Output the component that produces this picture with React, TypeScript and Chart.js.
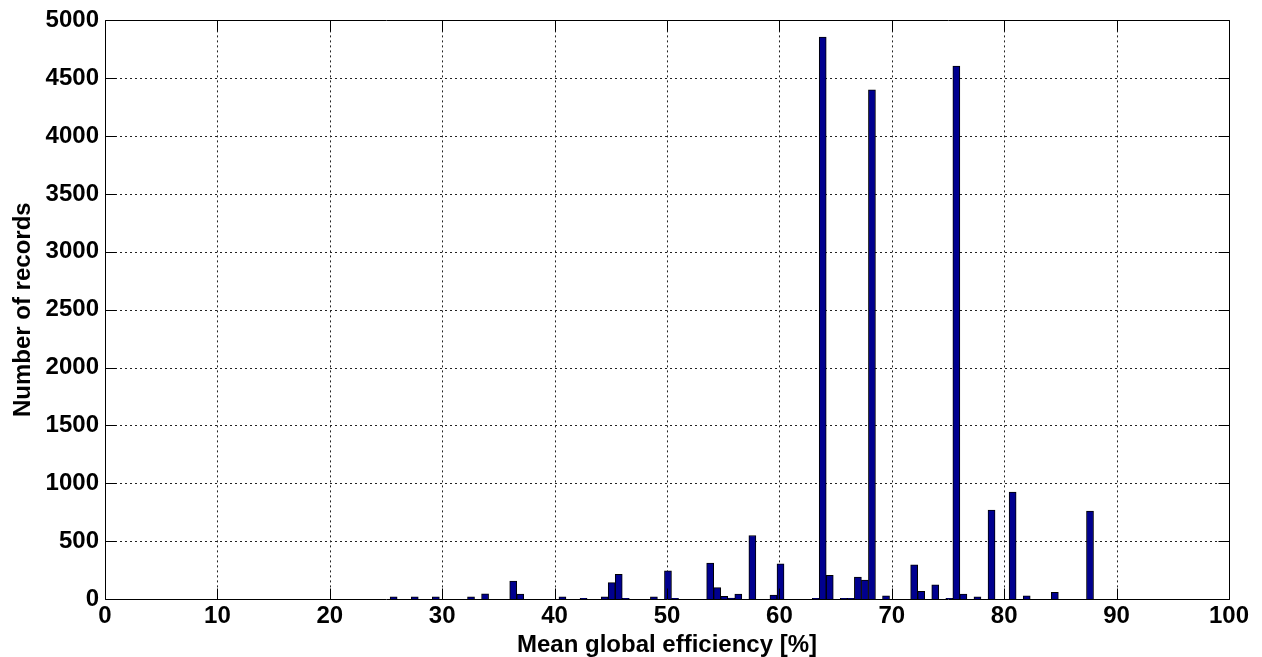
import React, { useEffect, useRef } from "react";
import { Chart, registerables } from "chart.js";

Chart.register(...registerables);

// Histogram bin centres (Mean global efficiency, %) for non-empty bins
const binCenters: number[] = [
  25.68, 27.557, 29.435, 32.564, 33.815, 36.319, 36.944, 40.699, 42.577, 44.454,
  45.08, 45.706, 46.331, 48.835, 50.086, 50.712, 53.841, 54.467, 55.093, 55.718,
  56.344, 57.596, 59.473, 60.099, 63.228, 63.854, 64.48, 65.731, 66.357, 66.983,
  67.609, 68.234, 69.486, 71.989, 72.615, 73.867, 75.118, 75.744, 76.37, 77.621,
  78.873, 80.75, 82.002, 84.505, 87.634,
];
// Number of records in each bin
const binCounts: number[] = [
  18, 18, 18, 18, 45, 155, 43, 18, 6, 18,
  141, 213, 6, 18, 244, 6, 311, 98, 24, 7,
  43, 549, 33, 305, 6, 4856, 205, 6, 6, 189,
  164, 4401, 27, 296, 67, 123, 6, 4605, 43, 18,
  769, 924, 27, 58, 760,
];

const xTickValues: number[] = [0, 10, 20, 30, 40, 50, 60, 70, 80, 90, 100];
const yTickValues: number[] = [0, 500, 1000, 1500, 2000, 2500, 3000, 3500, 4000, 4500, 5000];

const xTitle = "Mean global efficiency [%]";
const yTitle = "Number of records";

const FONT = '"Liberation Sans", Arial, Helvetica, sans-serif';

const matlabAxes = {
  id: "matlabAxes",
  beforeDatasetsDraw(chart: any) {
    const { ctx, chartArea: a, scales } = chart;
    const x = scales.x;
    const y = scales.y;
    ctx.save();
    ctx.strokeStyle = "#222";
    ctx.lineWidth = 1;
    ctx.setLineDash([2, 3]);
    ctx.beginPath();
    xTickValues.forEach((v) => {
      if (v > x.min && v < x.max) {
        const px = Math.round(x.getPixelForValue(v)) + 0.5;
        ctx.moveTo(px, a.top);
        ctx.lineTo(px, a.bottom);
      }
    });
    yTickValues.forEach((v) => {
      if (v > y.min && v < y.max) {
        const py = Math.round(y.getPixelForValue(v)) + 0.5;
        ctx.moveTo(a.left, py);
        ctx.lineTo(a.right, py);
      }
    });
    ctx.stroke();
    ctx.restore();
  },
  afterDatasetsDraw(chart: any) {
    const { ctx, chartArea: a, scales } = chart;
    const x = scales.x;
    const y = scales.y;
    const L = Math.round(a.left) + 0.5;
    const R = Math.round(a.right) + 0.5;
    const T = Math.round(a.top) + 0.5;
    const B = Math.round(a.bottom) + 0.5;
    const tl = 11;
    ctx.save();
    ctx.strokeStyle = "#000";
    ctx.lineWidth = 1;
    ctx.setLineDash([]);
    ctx.beginPath();
    ctx.rect(L, T, R - L, B - T);
    xTickValues.forEach((v) => {
      const px = Math.round(x.getPixelForValue(v)) + 0.5;
      ctx.moveTo(px, B);
      ctx.lineTo(px, B - tl);
      ctx.moveTo(px, T);
      ctx.lineTo(px, T + tl);
    });
    yTickValues.forEach((v) => {
      const py = Math.round(y.getPixelForValue(v)) + 0.5;
      ctx.moveTo(L, py);
      ctx.lineTo(L + tl, py);
      ctx.moveTo(R, py);
      ctx.lineTo(R - tl, py);
    });
    ctx.stroke();
    ctx.restore();
  },
};

export default function App() {
  const ref = useRef<HTMLCanvasElement | null>(null);

  useEffect(() => {
    document.body.style.margin = "0";
    const canvas = ref.current;
    if (!canvas) return;
    const data = binCenters.map((c, i) => ({ x: c, y: binCounts[i] }));
    const chart = new Chart(canvas, {
      type: "bar",
      data: {
        datasets: [
          {
            label: "records",
            data: data as any,
            backgroundColor: "#00008F",
            borderColor: "#000000",
            borderWidth: 1,
            barPercentage: 1,
            categoryPercentage: 1,
          },
        ],
      },
      options: {
        animation: false,
        responsive: false,
        maintainAspectRatio: false,
        layout: { padding: { left: 0, top: 20, right: 33, bottom: 0 } },
        plugins: {
          legend: { display: false },
          tooltip: { enabled: false },
        },
        scales: {
          x: {
            type: "linear",
            min: 0,
            max: 100,
            offset: false,
            grid: { display: false, offset: false, drawTicks: false },
            border: { display: false },
            afterBuildTicks: (scale: any) => {
              scale.ticks = xTickValues.map((v) => ({ value: v }));
            },
            ticks: {
              autoSkip: false,
              maxRotation: 0,
              padding: 3,
              color: "#000",
              font: { family: FONT, size: 24, weight: "bold" },
              callback: (v: any) => String(v),
            },
            title: {
              display: true,
              text: xTitle,
              color: "#000",
              font: { family: FONT, size: 24, weight: "bold", lineHeight: 1 },
              padding: { top: 0, bottom: 0 },
            },
            afterFit: (scale: any) => {
              scale.height = 58;
            },
          },
          y: {
            type: "linear",
            min: 0,
            max: 5000,
            grid: { display: false, drawTicks: false },
            border: { display: false },
            afterBuildTicks: (scale: any) => {
              scale.ticks = yTickValues.map((v) => ({ value: v }));
            },
            ticks: {
              autoSkip: false,
              padding: 6,
              color: "#000",
              font: { family: FONT, size: 24, weight: "bold" },
              callback: (v: any) => String(v),
            },
            title: {
              display: true,
              text: yTitle,
              color: "#000",
              font: { family: FONT, size: 24, weight: "bold", lineHeight: 1 },
              padding: { top: 11, bottom: 0 },
            },
            afterFit: (scale: any) => {
              scale.width = 105;
            },
          },
        },
      },
      plugins: [matlabAxes],
    });
    return () => chart.destroy();
  }, []);

  return (
    <div style={{ width: 1262, height: 657, background: "#fff" }}>
      <canvas ref={ref} width={1262} height={657} style={{ display: "block" }} />
    </div>
  );
}
